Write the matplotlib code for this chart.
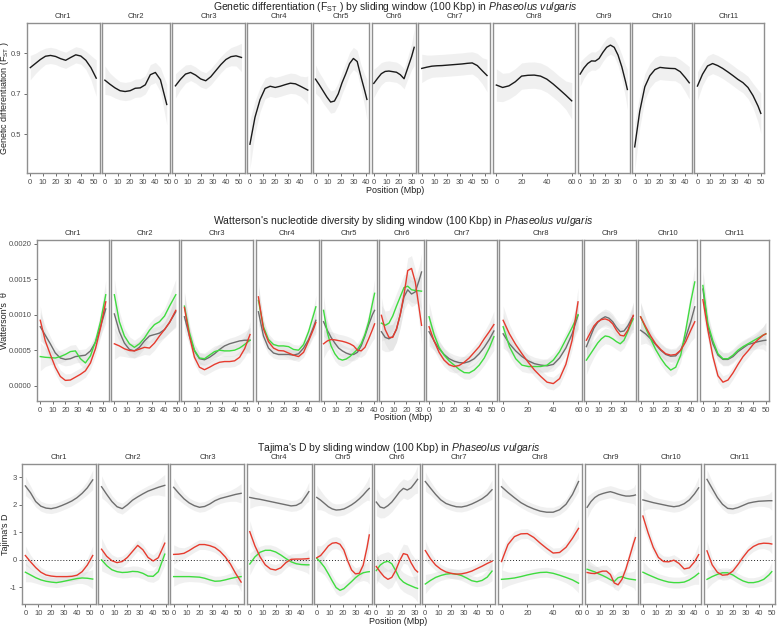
import numpy as np
import matplotlib
matplotlib.use("Agg")
import matplotlib.pyplot as plt

plt.rcParams['font.family'] = ['Liberation Sans', 'DejaVu Sans']
plt.rcParams['mathtext.fontset'] = 'custom'
plt.rcParams['mathtext.rm'] = 'Liberation Sans'
plt.rcParams['mathtext.it'] = 'Liberation Sans:italic'

# chromosomes and their lengths (Mbp), used as facet widths
CHROMS = ["Chr1", "Chr2", "Chr3", "Chr4", "Chr5", "Chr6",
          "Chr7", "Chr8", "Chr9", "Chr10", "Chr11"]
CHR_LEN = [52.2, 49.0, 52.3, 45.8, 40.7, 32.0, 51.7, 59.7, 37.4, 43.2, 50.2]
XTICKS = [[0, 10, 20, 30, 40, 50], [0, 10, 20, 30, 40, 50], [0, 10, 20, 30, 40, 50],
          [0, 10, 20, 30, 40], [0, 10, 20, 30, 40], [0, 10, 20, 30],
          [0, 10, 20, 30, 40, 50], [0, 20, 40, 60], [0, 10, 20, 30],
          [0, 10, 20, 30, 40], [0, 10, 20, 30, 40, 50]]

# positions (Mbp) where the smoothed curves were read
POS = [
    [0, 4, 8, 12, 16, 20, 24, 28, 32, 36, 40, 44, 48, 52.2],
    [0, 4, 8, 12, 16, 20, 24, 28, 32, 36, 40, 44, 49],
    [0, 4, 8, 12, 16, 20, 24, 28, 32, 36, 40, 44, 48, 52.3],
    [0, 4, 8, 12, 16, 20, 24, 28, 32, 36, 40, 44, 45.8],
    [0, 3, 6, 9, 12, 15, 18, 21, 24, 27, 30, 33, 36, 39, 40.7],
    [0, 3, 6, 9, 12, 15, 18, 21, 24, 27, 30, 32],
    [0, 4, 8, 12, 16, 20, 24, 28, 32, 36, 40, 44, 48, 51.7],
    [0, 5, 10, 15, 20, 25, 30, 35, 40, 45, 50, 55, 59.7],
    [0, 3, 6, 9, 12, 15, 18, 21, 24, 27, 30, 33, 36, 37.4],
    [0, 4, 8, 12, 16, 20, 24, 28, 32, 36, 40, 43.2],
    [0, 4, 8, 12, 16, 20, 24, 28, 32, 36, 40, 44, 48, 50.2],
]

# --- Fst ---
FST = [
    [0.830, 0.850, 0.870, 0.886, 0.890, 0.885, 0.874, 0.866, 0.880, 0.893, 0.887, 0.866, 0.830, 0.778],
    [0.768, 0.748, 0.730, 0.716, 0.712, 0.716, 0.728, 0.730, 0.745, 0.795, 0.806, 0.770, 0.648],
    [0.740, 0.772, 0.798, 0.806, 0.793, 0.774, 0.765, 0.785, 0.815, 0.845, 0.870, 0.884, 0.888, 0.880],
    [0.452, 0.585, 0.672, 0.727, 0.738, 0.732, 0.738, 0.746, 0.753, 0.750, 0.738, 0.725, 0.719],
    [0.773, 0.745, 0.715, 0.685, 0.660, 0.665, 0.700, 0.755, 0.800, 0.850, 0.875, 0.860, 0.785, 0.715, 0.673],
    [0.752, 0.777, 0.800, 0.811, 0.813, 0.810, 0.807, 0.795, 0.775, 0.830, 0.885, 0.930],
    [0.826, 0.832, 0.837, 0.839, 0.840, 0.842, 0.844, 0.846, 0.848, 0.851, 0.853, 0.840, 0.814, 0.791],
    [0.744, 0.732, 0.740, 0.760, 0.788, 0.792, 0.793, 0.788, 0.773, 0.749, 0.722, 0.694, 0.666],
    [0.798, 0.828, 0.850, 0.863, 0.862, 0.875, 0.905, 0.930, 0.941, 0.930, 0.892, 0.834, 0.760, 0.722],
    [0.439, 0.615, 0.735, 0.790, 0.820, 0.831, 0.828, 0.826, 0.825, 0.810, 0.781, 0.755],
    [0.739, 0.797, 0.838, 0.850, 0.840, 0.826, 0.809, 0.791, 0.772, 0.756, 0.732, 0.692, 0.640, 0.604],
]
FST_SE = [
    [0.06, 0.05, 0.045, 0.04, 0.04, 0.04, 0.04, 0.04, 0.04, 0.04, 0.04, 0.045, 0.06, 0.09],
    [0.07, 0.055, 0.05, 0.045, 0.045, 0.045, 0.045, 0.045, 0.045, 0.05, 0.05, 0.06, 0.10],
    [0.06, 0.05, 0.045, 0.04, 0.04, 0.04, 0.04, 0.04, 0.04, 0.04, 0.04, 0.045, 0.05, 0.07],
    [0.12, 0.08, 0.06, 0.05, 0.05, 0.05, 0.05, 0.05, 0.05, 0.05, 0.05, 0.06, 0.07],
    [0.07, 0.06, 0.06, 0.055, 0.055, 0.055, 0.055, 0.055, 0.055, 0.055, 0.055, 0.055, 0.06, 0.08, 0.10],
    [0.07, 0.06, 0.055, 0.05, 0.05, 0.05, 0.05, 0.05, 0.05, 0.055, 0.065, 0.09],
    [0.07, 0.06, 0.055, 0.055, 0.055, 0.055, 0.055, 0.055, 0.055, 0.055, 0.055, 0.06, 0.065, 0.08],
    [0.08, 0.07, 0.065, 0.065, 0.065, 0.065, 0.065, 0.065, 0.065, 0.065, 0.065, 0.07, 0.09],
    [0.06, 0.05, 0.045, 0.045, 0.045, 0.045, 0.045, 0.045, 0.045, 0.045, 0.05, 0.06, 0.08, 0.10],
    [0.12, 0.08, 0.065, 0.06, 0.06, 0.06, 0.06, 0.06, 0.06, 0.06, 0.07, 0.08],
    [0.07, 0.055, 0.05, 0.05, 0.05, 0.05, 0.05, 0.05, 0.05, 0.05, 0.055, 0.06, 0.08, 0.10],
]

# --- Watterson's theta, in units of 1e-4 ---
THETA_GRAY = [
    [8.3, 7.1, 5.9, 4.6, 3.9, 3.7, 3.8, 4.1, 4.2, 4.3, 4.9, 6.1, 8.3, 10.8],
    [10.1, 7.6, 6.0, 5.1, 4.9, 5.4, 6.3, 7.0, 7.2, 7.4, 7.9, 8.9, 10.4],
    [9.7, 7.0, 4.9, 3.8, 3.65, 4.0, 4.5, 5.1, 5.6, 5.9, 6.1, 6.3, 6.4, 6.4],
    [10.4, 7.0, 5.3, 4.6, 4.4, 4.4, 4.4, 4.3, 4.5, 5.3, 6.5, 8.3, 9.2],
    [9.0, 7.8, 6.8, 6.0, 5.3, 4.9, 4.6, 4.4, 4.4, 4.7, 5.6, 7.0, 8.6, 10.0, 10.6],
    [7.6, 6.8, 6.6, 6.9, 7.9, 10.0, 12.5, 13.5, 12.9, 13.2, 14.8, 16.0],
    [7.6, 6.3, 5.2, 4.4, 3.8, 3.45, 3.25, 3.2, 3.4, 3.8, 4.5, 5.4, 6.5, 7.7],
    [7.3, 5.9, 4.9, 4.1, 3.5, 3.1, 2.9, 2.8, 3.0, 3.9, 5.3, 7.3, 9.9],
    [5.5, 6.8, 8.1, 8.9, 9.4, 9.7, 9.5, 9.0, 8.2, 7.6, 7.7, 8.4, 9.4, 9.8],
    [7.8, 7.3, 6.6, 5.8, 5.0, 4.4, 4.15, 4.2, 5.0, 6.8, 9.0, 11.1],
    [13.6, 8.3, 5.9, 4.3, 3.7, 3.7, 4.1, 4.8, 5.3, 5.8, 6.0, 6.2, 6.35, 6.4],
]
THETA_GREEN = [
    [4.1, 4.0, 3.95, 3.9, 4.1, 4.4, 4.8, 4.9, 3.8, 3.2, 4.2, 6.2, 9.0, 12.8],
    [12.8, 9.0, 7.0, 5.9, 5.4, 5.9, 6.7, 7.8, 8.6, 9.0, 9.8, 11.2, 12.8],
    [11.2, 7.5, 5.0, 3.9, 3.8, 4.3, 4.8, 5.0, 4.9, 4.9, 5.0, 5.3, 5.8, 6.4],
    [12.0, 8.3, 6.5, 5.8, 5.6, 5.6, 5.5, 5.1, 5.0, 5.8, 7.6, 10.0, 11.1],
    [10.6, 7.5, 5.6, 4.5, 3.8, 3.6, 3.75, 4.1, 4.6, 5.1, 5.9, 7.2, 9.0, 11.6, 13.0],
    [8.8, 8.5, 8.8, 9.8, 11.2, 12.5, 13.8, 14.0, 13.5, 13.4, 13.35, 13.3],
    [9.7, 7.2, 5.4, 4.3, 3.5, 2.9, 2.3, 1.85, 1.8, 2.2, 2.9, 3.9, 5.3, 6.9],
    [8.3, 5.5, 3.8, 2.9, 2.7, 2.7, 2.7, 2.9, 3.6, 4.8, 6.5, 8.2, 10.0],
    [3.6, 4.4, 5.2, 6.0, 6.6, 7.0, 6.9, 6.6, 6.2, 5.9, 6.4, 7.6, 8.9, 9.4],
    [9.7, 8.1, 6.6, 5.1, 3.9, 2.9, 2.2, 2.6, 4.3, 7.8, 11.8, 14.6],
    [14.1, 8.7, 6.3, 4.5, 3.8, 3.8, 4.3, 5.0, 5.5, 5.9, 6.3, 6.7, 7.1, 7.3],
]
THETA_RED = [
    [9.2, 6.3, 4.4, 2.6, 1.3, 0.75, 0.8, 1.2, 1.6, 2.1, 3.2, 5.2, 8.1, 11.8],
    [5.9, 5.6, 5.2, 4.95, 4.9, 5.15, 5.4, 5.3, 6.0, 7.0, 7.9, 8.9, 10.6],
    [11.0, 7.0, 4.0, 2.6, 2.25, 2.6, 3.0, 3.3, 3.4, 3.4, 3.5, 4.0, 5.2, 7.2],
    [12.5, 8.0, 6.2, 5.3, 4.95, 4.9, 4.6, 4.3, 4.1, 4.7, 6.3, 8.0, 8.9],
    [5.9, 6.3, 6.5, 6.45, 6.35, 6.25, 6.1, 5.9, 5.6, 5.0, 4.9, 5.4, 6.6, 7.9, 8.7],
    [9.9, 7.9, 6.8, 6.8, 8.0, 10.0, 12.8, 16.2, 16.5, 14.6, 11.0, 8.5],
    [8.3, 6.3, 4.7, 3.6, 2.95, 2.7, 2.85, 3.3, 3.9, 4.7, 5.5, 6.6, 7.6, 8.6],
    [9.2, 7.3, 5.8, 4.5, 3.3, 2.2, 1.3, 0.5, 0.3, 1.0, 3.0, 6.4, 11.8],
    [6.4, 7.4, 8.4, 9.0, 9.3, 9.4, 9.2, 8.7, 7.8, 7.1, 7.0, 7.8, 9.2, 9.9],
    [9.7, 8.3, 7.0, 5.9, 5.1, 4.5, 4.3, 4.4, 5.0, 6.2, 7.8, 9.0],
    [12.1, 7.8, 4.1, 1.4, 0.5, 0.8, 1.8, 3.0, 4.1, 4.9, 5.8, 6.5, 7.1, 7.3],
]
THETA_SE = [
    [2.0, 1.3, 1.0, 0.9, 0.9, 0.9, 0.9, 0.9, 0.9, 0.9, 0.9, 1.0, 1.3, 2.0],
    [2.2, 1.4, 1.1, 1.0, 1.0, 1.0, 1.0, 1.0, 1.0, 1.0, 1.1, 1.4, 2.2],
    [2.0, 1.2, 0.9, 0.8, 0.8, 0.8, 0.8, 0.8, 0.8, 0.8, 0.8, 0.9, 1.2, 1.8],
    [1.8, 1.1, 0.8, 0.7, 0.7, 0.7, 0.7, 0.7, 0.7, 0.7, 0.8, 1.1, 1.6],
    [2.0, 1.4, 1.1, 1.0, 0.9, 0.9, 0.9, 0.9, 0.9, 0.9, 0.9, 1.0, 1.2, 1.6, 2.0],
    [2.5, 2.0, 1.8, 1.8, 1.8, 1.8, 1.8, 1.8, 1.8, 1.8, 2.0, 2.6],
    [2.0, 1.3, 1.0, 0.9, 0.9, 0.9, 0.9, 0.9, 0.9, 0.9, 0.9, 1.0, 1.3, 1.9],
    [2.0, 1.3, 1.0, 0.9, 0.9, 0.9, 0.9, 0.9, 0.9, 0.9, 1.0, 1.3, 2.0],
    [2.0, 1.5, 1.2, 1.1, 1.1, 1.1, 1.1, 1.1, 1.1, 1.1, 1.1, 1.2, 1.5, 1.9],
    [2.0, 1.3, 1.0, 0.9, 0.9, 0.9, 0.9, 0.9, 1.0, 1.2, 1.6, 2.2],
    [2.2, 1.4, 1.0, 0.9, 0.9, 0.9, 0.9, 0.9, 0.9, 0.9, 0.9, 1.0, 1.2, 1.6],
]

# --- Tajima's D ---
TAJD_GRAY = [
    [2.69, 2.44, 2.12, 1.95, 1.88, 1.86, 1.9, 1.97, 2.05, 2.14, 2.26, 2.42, 2.62, 2.91],
    [2.66, 2.38, 2.12, 1.93, 1.86, 2.0, 2.17, 2.29, 2.4, 2.5, 2.57, 2.64, 2.71],
    [2.64, 2.42, 2.22, 2.07, 1.97, 1.91, 1.94, 2.03, 2.15, 2.23, 2.28, 2.33, 2.38, 2.42],
    [2.27, 2.23, 2.2, 2.16, 2.12, 2.08, 2.04, 2.0, 1.96, 1.98, 2.08, 2.35, 2.48],
    [2.27, 2.17, 2.05, 1.93, 1.85, 1.81, 1.82, 1.85, 1.92, 2.0, 2.1, 2.22, 2.36, 2.52, 2.6],
    [2.1, 1.92, 1.88, 1.97, 2.1, 2.28, 2.47, 2.6, 2.54, 2.62, 2.8, 2.93],
    [2.85, 2.61, 2.38, 2.18, 2.05, 1.98, 1.93, 1.92, 1.96, 2.03, 2.12, 2.22, 2.36, 2.55],
    [2.66, 2.45, 2.26, 2.08, 1.95, 1.85, 1.77, 1.73, 1.73, 1.82, 2.02, 2.38, 2.85],
    [1.91, 2.12, 2.27, 2.36, 2.41, 2.45, 2.48, 2.44, 2.39, 2.35, 2.32, 2.32, 2.34, 2.36],
    [2.18, 2.13, 2.08, 2.04, 2.0, 1.96, 1.93, 1.96, 2.04, 2.18, 2.4, 2.62],
    [2.93, 2.6, 2.27, 2.02, 1.87, 1.85, 1.9, 1.98, 2.06, 2.1, 2.13, 2.14, 2.15, 2.15],
]
TAJD_RED = [
    [0.15, -0.08, -0.29, -0.46, -0.56, -0.6, -0.62, -0.62, -0.62, -0.61, -0.57, -0.44, -0.2, 0.15],
    [0.38, 0.12, -0.04, -0.11, -0.07, 0.08, 0.3, 0.52, 0.36, 0.08, -0.05, 0.07, 0.6],
    [0.19, 0.2, 0.23, 0.33, 0.45, 0.55, 0.55, 0.51, 0.44, 0.3, 0.1, -0.16, -0.5, -0.82],
    [1.02, 0.5, 0.1, -0.19, -0.34, -0.38, -0.3, -0.11, 0.01, 0.02, 0.02, 0.03, 0.04],
    [0.07, 0.15, 0.32, 0.5, 0.6, 0.62, 0.56, 0.35, -0.05, -0.38, -0.52, -0.5, -0.2, 0.45, 0.9],
    [-0.25, -0.45, -0.62, -0.72, -0.65, -0.4, -0.05, 0.22, 0.18, -0.12, -0.36, -0.45],
    [0.33, 0.03, -0.2, -0.35, -0.45, -0.5, -0.53, -0.52, -0.48, -0.42, -0.33, -0.24, -0.14, -0.06],
    [-0.07, 0.55, 0.84, 0.94, 0.95, 0.81, 0.6, 0.41, 0.24, 0.26, 0.45, 0.78, 1.14],
    [-0.47, -0.5, -0.51, -0.46, -0.42, -0.42, -0.54, -0.85, -0.92, -0.72, -0.35, 0.12, 0.6, 0.8],
    [1.59, 0.98, 0.45, 0.08, -0.07, -0.08, -0.02, -0.14, -0.34, -0.3, -0.08, 0.18],
    [0.32, -0.19, -0.46, -0.57, -0.55, -0.42, -0.18, 0.09, 0.33, 0.48, 0.57, 0.6, 0.59, 0.57],
]
TAJD_GREEN = [
    [-0.46, -0.56, -0.66, -0.74, -0.79, -0.82, -0.84, -0.81, -0.77, -0.73, -0.69, -0.67, -0.68, -0.71],
    [-0.01, -0.22, -0.37, -0.44, -0.47, -0.46, -0.43, -0.44, -0.5, -0.6, -0.61, -0.44, 0.2],
    [-0.62, -0.62, -0.62, -0.62, -0.63, -0.64, -0.68, -0.74, -0.79, -0.78, -0.74, -0.69, -0.65, -0.62],
    [-0.16, 0.1, 0.27, 0.34, 0.34, 0.28, 0.17, 0.04, -0.08, -0.15, -0.18, -0.19, -0.19],
    [0.05, -0.1, -0.28, -0.52, -0.78, -1.02, -1.12, -1.06, -0.93, -0.8, -0.66, -0.55, -0.48, -0.45, -0.44],
    [-0.4, -0.2, -0.1, -0.06, -0.15, -0.4, -0.68, -0.82, -0.9, -0.96, -1.02, -1.05],
    [-0.89, -0.76, -0.65, -0.58, -0.53, -0.51, -0.53, -0.58, -0.67, -0.77, -0.81, -0.76, -0.64, -0.42],
    [-0.72, -0.7, -0.67, -0.62, -0.56, -0.51, -0.47, -0.46, -0.5, -0.57, -0.65, -0.74, -0.86],
    [-0.35, -0.4, -0.45, -0.52, -0.58, -0.65, -0.73, -0.8, -0.66, -0.62, -0.68, -0.71, -0.73, -0.74],
    [-0.46, -0.55, -0.63, -0.71, -0.77, -0.82, -0.84, -0.84, -0.82, -0.74, -0.62, -0.5],
    [-0.72, -0.62, -0.54, -0.48, -0.48, -0.56, -0.68, -0.78, -0.84, -0.84, -0.8, -0.72, -0.56, -0.44],
]
TAJD_SE = [
    [0.35, 0.25, 0.2, 0.18, 0.18, 0.18, 0.18, 0.18, 0.18, 0.18, 0.18, 0.2, 0.25, 0.35],
    [0.4, 0.28, 0.22, 0.2, 0.2, 0.2, 0.2, 0.2, 0.2, 0.2, 0.22, 0.28, 0.4],
    [0.35, 0.25, 0.2, 0.18, 0.18, 0.18, 0.18, 0.18, 0.18, 0.18, 0.18, 0.2, 0.25, 0.35],
    [0.4, 0.28, 0.22, 0.2, 0.2, 0.2, 0.2, 0.2, 0.2, 0.2, 0.22, 0.28, 0.35],
    [0.45, 0.35, 0.28, 0.25, 0.22, 0.22, 0.22, 0.22, 0.22, 0.22, 0.22, 0.25, 0.28, 0.35, 0.45],
    [0.5, 0.4, 0.35, 0.35, 0.35, 0.35, 0.35, 0.35, 0.35, 0.35, 0.4, 0.5],
    [0.35, 0.25, 0.2, 0.18, 0.18, 0.18, 0.18, 0.18, 0.18, 0.18, 0.18, 0.2, 0.25, 0.35],
    [0.35, 0.25, 0.2, 0.18, 0.18, 0.18, 0.18, 0.18, 0.18, 0.18, 0.2, 0.25, 0.35],
    [0.4, 0.3, 0.25, 0.22, 0.22, 0.22, 0.22, 0.22, 0.22, 0.22, 0.22, 0.25, 0.3, 0.4],
    [0.4, 0.28, 0.22, 0.2, 0.2, 0.2, 0.2, 0.2, 0.2, 0.22, 0.28, 0.4],
    [0.35, 0.25, 0.2, 0.18, 0.18, 0.18, 0.18, 0.18, 0.18, 0.18, 0.18, 0.2, 0.25, 0.35],
]

GRAY = "#6e6e6e"
GREEN = "#3fdc3f"
RED = "#e63b2e"
FRAME = "#8f8f8f"
TXT = "#4d4d4d"

W, H = 778, 626
fig = plt.figure(figsize=(W / 100, H / 100), dpi=100)


def draw_row(box, title_y, series, se, ylim, yticks, yticklabels, ylabel, title, zero_line=False):
    # box = (left, right, top, bottom) in pixels
    l, r, t, b = box
    gs = fig.add_gridspec(1, 11, width_ratios=CHR_LEN, wspace=0.035,
                          left=l / W, right=r / W, top=1 - t / H, bottom=1 - b / H)
    for i, name in enumerate(CHROMS):
        ax = fig.add_subplot(gs[0, i])
        x = np.array(POS[i])
        s = np.array(se[i])
        for vals, col in series:
            v = np.array(vals[i])
            ax.fill_between(x, v - s, v + s, color="#cfcfcf", alpha=0.3, lw=0, zorder=1)
        if zero_line:
            ax.axhline(0, color="#222222", lw=0.7, ls=(0, (1, 2)), zorder=2)
        for vals, col in series:
            ax.plot(x, vals[i], color=col, lw=1.0, zorder=3)
        L = CHR_LEN[i]
        ax.set_xlim(-0.05 * L, 1.05 * L)
        ax.set_ylim(*ylim)
        ax.set_xticks(XTICKS[i])
        ax.set_xticklabels([str(v) for v in XTICKS[i]])
        ax.set_yticks(yticks)
        for sp in ax.spines.values():
            sp.set_color(FRAME)
            sp.set_linewidth(1.0)
        ax.tick_params(axis="both", length=2.5, width=0.6, color="#555555",
                       labelsize=5.5, labelcolor=TXT, pad=1.5)
        if i == 0:
            ax.set_yticklabels(yticklabels)
        else:
            ax.tick_params(axis="y", left=False, labelleft=False)
        ax.annotate(name, xy=(0.5, 1.0), xycoords="axes fraction", xytext=(0, 2),
                    textcoords="offset points", ha="center", va="bottom",
                    fontsize=5.5, color="#333333")
    cx = (l + r) / 2 / W
    fig.text(cx, 1 - title_y / H, title, ha="center", va="center", fontsize=7.5, color="#222222")
    fig.text(cx, 1 - (b + 17) / H, "Position (Mbp)", ha="center", va="center",
             fontsize=6.5, color="#222222")
    fig.text(5 / W, 1 - (t + b) / 2 / H, ylabel, rotation=90, ha="center", va="center",
             fontsize=6.5, color="#222222")


draw_row((27, 764, 23, 173), 7, [(FST, "#1a1a1a")], FST_SE, (0.31, 1.05),
         [0.5, 0.7, 0.9], ["0.5", "0.7", "0.9"],
         r"Genetic differentiation (F$_{\rm ST}$ )",
         r"Genetic differentiation (F$_{\rm ST}$ ) by sliding window (100 Kbp) in $\it{Phaseolus\ vulgaris}$")

draw_row((37, 769, 240, 401), 221,
         [(THETA_GRAY, GRAY), (THETA_GREEN, GREEN), (THETA_RED, RED)], THETA_SE,
         (-2.15, 20.5), [0, 5, 10, 15, 20],
         ["0.0000", "0.0005", "0.0010", "0.0015", "0.0020"],
         "Watterson's  \u03b8",
         r"Watterson's nucleotide diversity by sliding window (100 Kbp) in $\it{Phaseolus\ vulgaris}$")

draw_row((22, 775, 464, 604), 448,
         [(TAJD_GRAY, GRAY), (TAJD_GREEN, GREEN), (TAJD_RED, RED)], TAJD_SE,
         (-1.62, 3.49), [-1, 0, 1, 2, 3], ["-1", "0", "1", "2", "3"],
         "Tajima's D",
         r"Tajima's D by sliding window (100 Kbp) in $\it{Phaseolus\ vulgaris}$",
         zero_line=True)

fig.savefig("out.png", dpi=100, facecolor="white")
